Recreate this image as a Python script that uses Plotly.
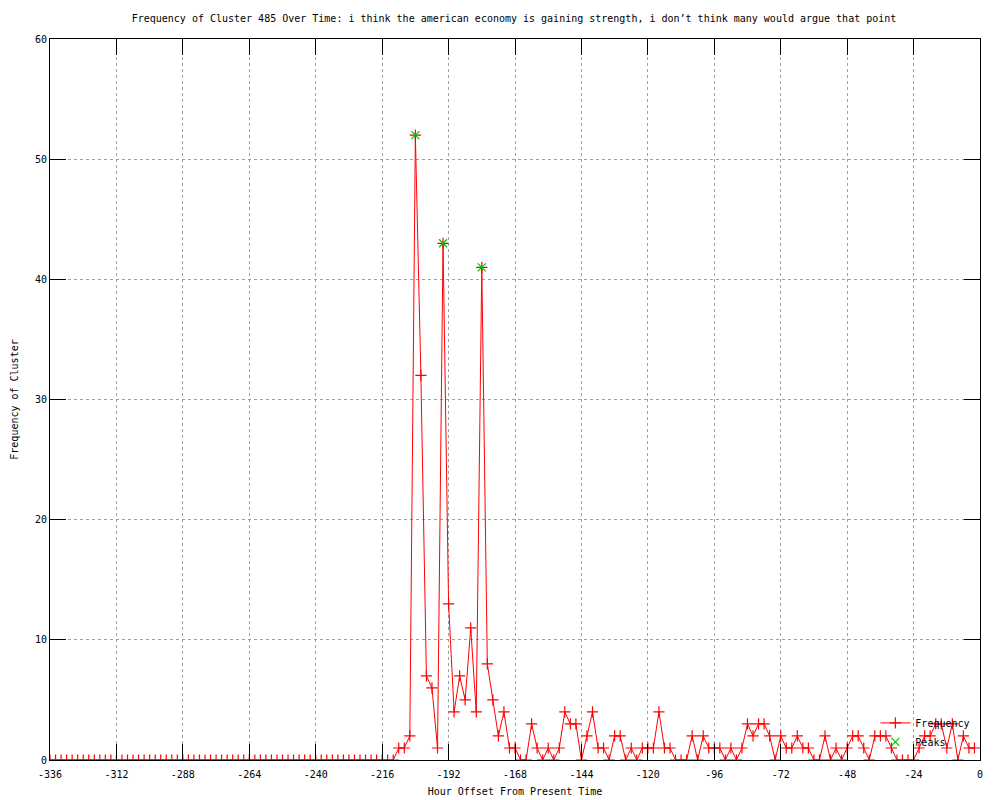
import plotly.graph_objects as go

# ---- data ----
hours = list(range(-336, 0, 2))
zeros_before = [0] * 63  # -336 .. -212
active_values = [
    1, 1, 2, 52, 32, 7, 6, 1, 43, 13, 4, 7, 5, 11, 4, 41, 8, 5, 2, 4,   # -210 .. -172
    1, 1, 0, 0, 3, 1, 0, 1, 0, 1, 4, 3, 3, 0, 2, 4, 1, 1, 0, 2,          # -170 .. -132
    2, 0, 1, 0, 1, 1, 1, 4, 1, 1, 0, 0, 0, 2, 0, 2, 1, 1, 1, 0,          # -130 .. -92
    1, 0, 1, 3, 2, 3, 3, 2, 0, 2, 1, 1, 2, 1, 1, 0, 0, 2, 0, 1,          # -90 .. -52
    0, 1, 2, 2, 1, 0, 2, 2, 2, 1, 0, 0, 0, 0, 1, 2, 2, 3, 3, 1,          # -50 .. -12
    3, 0, 2, 1, 1,                                                         # -10 .. -2
]
frequency = zeros_before + active_values

peak_hours = [-204, -194, -180]
peak_values = [52, 43, 41]

x_tick_vals = list(range(-336, 1, 24))
x_tick_text = [str(v) for v in x_tick_vals]
y_tick_vals = list(range(0, 61, 10))
y_tick_text = [str(v) for v in y_tick_vals]

title_text = ("Frequency of Cluster 485 Over Time: i think the american economy is "
              "gaining strength, i don\u2019t think many would argue that point")

FONT = "DejaVu Sans Mono"

fig = go.Figure()
fig.add_trace(go.Scatter(
    x=hours, y=frequency, mode="lines+markers", name="Frequency",
    line=dict(color="#ff0000", width=1),
    marker=dict(symbol="cross-thin", size=8, color="#ff0000",
                line=dict(color="#ff0000", width=1.2)),
))
fig.add_trace(go.Scatter(
    x=peak_hours, y=peak_values, mode="markers", name="Peaks",
    marker=dict(symbol="x-thin", size=8, color="#00c000",
                line=dict(color="#00c000", width=1.2)),
))

axis_common = dict(
    showline=True, linecolor="black", linewidth=1, mirror="ticks",
    ticks="inside", ticklen=16, tickcolor="black", tickwidth=1,
    showgrid=True, gridcolor="#a0a0a0", griddash="dot", gridwidth=1,
    zeroline=False, automargin=False,
    tickfont=dict(family=FONT, size=10, color="black"),
)

fig.update_layout(
    width=1000, height=800,
    paper_bgcolor="white", plot_bgcolor="white",
    margin=dict(l=42, r=28, t=31, b=48),
    font=dict(family=FONT, size=10, color="black"),
    title=dict(text=title_text, x=0.506, xanchor="center", xref="container",
               y=0.9875, yanchor="middle", yref="container",
               font=dict(family=FONT, size=10, color="black")),
    xaxis=dict(range=[-336, 0], tickmode="array", tickvals=x_tick_vals,
               ticktext=x_tick_text, ticklabelstandoff=5,
               title=dict(text="Hour Offset From Present Time", standoff=8,
                          font=dict(family=FONT, size=10)),
               **axis_common),
    yaxis=dict(range=[0, 60], tickmode="array", tickvals=y_tick_vals,
               ticktext=y_tick_text,
               title=dict(text="Frequency of Cluster", standoff=14,
                          font=dict(family=FONT, size=10)),
               **axis_common),
    legend=dict(x=0.995, xanchor="right", y=0.005, yanchor="bottom",
                bgcolor="rgba(0,0,0,0)", borderwidth=0,
                font=dict(family=FONT, size=10), itemwidth=30,
                tracegroupgap=0),
    showlegend=True,
)

fig.write_html("out.html")
